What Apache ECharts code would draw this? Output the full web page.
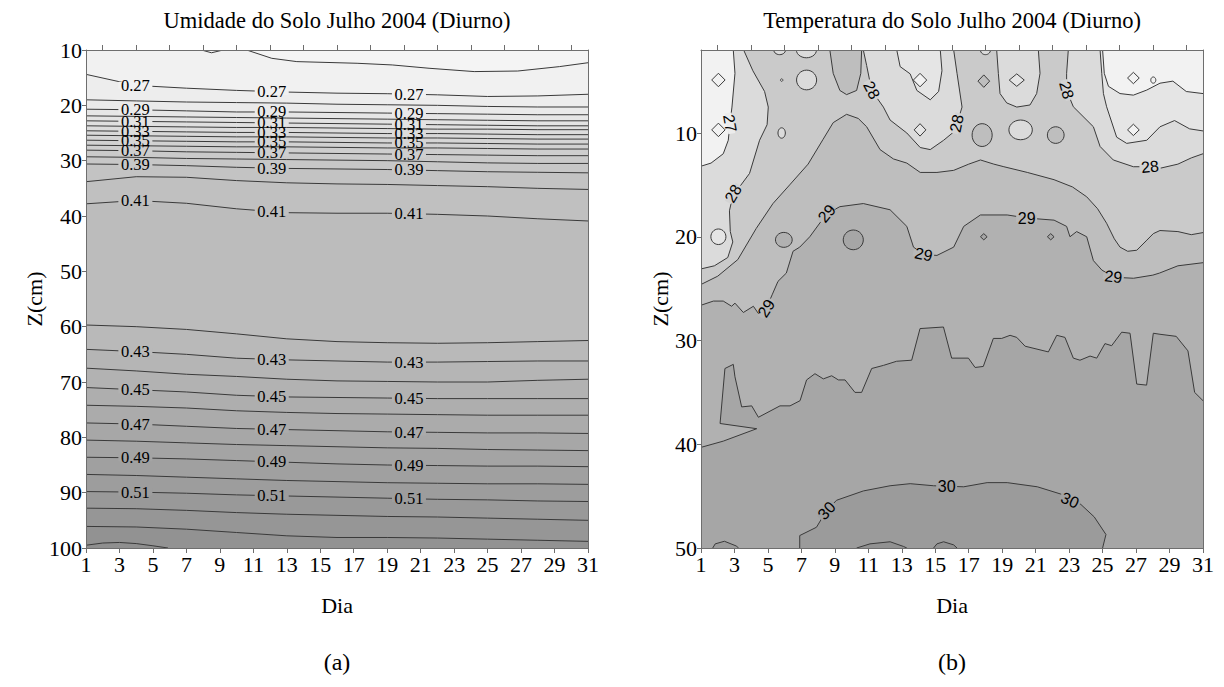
<!DOCTYPE html>
<html><head><meta charset="utf-8">
<script src="https://cdn.jsdelivr.net/npm/echarts@6.0.0/dist/echarts.min.js"></script>
<style>html,body{margin:0;padding:0;background:#fff}#c{width:1224px;height:687px}</style>
</head><body><div id="c"></div>
<script>
// ================= DATA =================
// ---- (a) Umidade do Solo: contour depth (cm) of each moisture level at sample days ----
const umDays = [1, 4, 7, 10, 13, 16, 19, 22, 25, 28, 31];
const umLevels = [0.27,0.28,0.29,0.30,0.31,0.32,0.33,0.34,0.35,0.36,0.37,0.38,0.39,0.40,0.41,0.42,0.43,0.44,0.45,0.46,0.47,0.48,0.49,0.50,0.51,0.52,0.53];
const umDepths = [
 [14.4,16.4,16.9,17.3,17.6,17.8,17.9,18.1,18.4,18.3,18.0],
 [19.0,19.2,19.4,19.5,19.6,19.8,19.9,20.0,20.2,20.3,20.3],
 [20.7,20.8,21.0,21.2,21.2,21.3,21.4,21.5,21.6,21.7,21.7],
 [21.9,22.0,22.1,22.2,22.3,22.4,22.5,22.6,22.7,22.8,22.8],
 [22.8,22.9,23.0,23.1,23.2,23.3,23.4,23.5,23.6,23.7,23.7],
 [23.7,23.8,23.9,24.0,24.0,24.1,24.2,24.3,24.3,24.4,24.4],
 [24.6,24.7,24.8,24.9,24.9,25.0,25.1,25.1,25.2,25.3,25.3],
 [25.4,25.5,25.6,25.7,25.7,25.8,25.9,25.9,26.0,26.1,26.1],
 [26.3,26.4,26.5,26.6,26.6,26.7,26.8,26.8,26.9,27.0,27.0],
 [27.2,27.3,27.4,27.5,27.5,27.6,27.7,27.7,27.8,27.9,27.9],
 [28.1,28.2,28.4,28.5,28.6,28.7,28.8,28.9,29.0,29.1,29.1],
 [29.3,29.4,29.6,29.7,29.8,29.9,30.0,30.2,30.4,30.5,30.5],
 [30.6,30.7,30.9,31.2,31.4,31.5,31.6,31.8,32.0,32.1,32.2],
 [33.8,32.9,33.0,33.6,34.0,34.2,34.3,34.5,34.7,35.0,35.2],
 [37.8,37.2,37.7,38.7,39.4,39.5,39.5,39.7,40.0,40.5,40.9],
 [59.7,60.0,60.5,61.3,62.2,62.7,62.9,63.0,62.9,62.7,62.5],
 [64.1,64.5,65.0,65.7,66.0,66.2,66.4,66.4,66.3,66.2,66.2],
 [67.5,68.0,68.6,69.0,69.5,69.8,69.9,70.0,70.0,69.7,69.5],
 [71.0,71.4,71.8,72.4,72.7,72.8,72.9,73.0,73.0,73.0,73.0],
 [74.2,74.4,74.7,75.2,75.5,75.7,75.8,75.9,76.0,76.0,76.0],
 [77.4,77.6,78.0,78.4,78.6,78.8,79.0,79.1,79.2,79.2,79.3],
 [80.5,80.7,81.0,81.3,81.5,81.7,81.9,82.0,82.2,82.3,82.4],
 [83.6,83.7,83.9,84.2,84.5,84.8,85.0,85.1,85.2,85.2,85.3],
 [86.7,86.9,87.2,87.5,87.8,88.0,88.2,88.3,88.4,88.4,88.5],
 [89.8,89.9,90.1,90.4,90.6,90.8,91.0,91.2,91.3,91.5,91.6],
 [92.8,92.9,93.2,93.6,93.9,94.1,94.3,94.4,94.6,94.8,95.0],
 [96.1,96.2,96.6,97.2,97.8,98.1,98.1,98.2,98.4,98.6,98.8]
];
const umLine026 = [[10.6,10],[12.1,11.5],[13.6,12.1],[17.2,12.4],[19.3,12.7],[21.5,13.3],[24.2,13.9],[26.8,13.8],[29.3,13.0],[31,12.3]];
const umPocket026 = [[7.9,10],[8.5,10.5],[9.2,10]];
const umDome054 = [[1,99.5],[2,99.1],[3,99.0],[4,99.2],[5,99.6],[5.9,100]];
const umLabelLevels = [0.27,0.29,0.31,0.33,0.35,0.37,0.39,0.41,0.43,0.45,0.47,0.49,0.51];
const umLabelDays = [3.95, 12.1, 20.3];

// ---- (b) Temperatura do Solo: contour outlines [day, depth] ----
const tBase = [[1,2],[31,2],[31,50],[1,50]];
const t30Dome = [[6.9,50],[6.9,48.8],[7.9,48.0],[8.5,46.4],[9.1,45.4],[10.7,44.5],[12.3,44.0],[13.5,43.8],[14.9,44.0],[16.7,44.1],[18.1,43.7],[19.3,43.7],[21.1,44.1],[22.5,44.8],[23.7,45.8],[24.5,47.0],[25.2,48.7],[25.0,50]];
const t30BumpLeft = [[1.7,50],[1.85,49.6],[2.4,49.35],[3.1,49.8],[3.25,50]];
const t305Bump1 = [[10.3,50],[11.1,49.6],[12.3,49.4],[13.1,49.85],[13.3,50]];
const t305Bump2 = [[14.9,50],[15.1,49.6],[15.5,49.4],[16.1,49.7],[16.3,50]];
const t295Upper = [[1,40.3],[2.33,39.7],[4.33,38.5],[2.14,38.0],[2.43,32.7],[2.93,32.3],[3.03,33.5],[3.43,36.4],[4.03,36.3],[4.43,37.4],[5.72,36.3],[6.32,36.3],[6.92,35.8],[7.31,33.8],[7.81,33.2],[8.31,33.7],[8.81,33.4],[9.21,33.8],[9.61,33.8],[10.2,35.0],[10.6,35.0],[11.2,32.7],[11.9,32.4],[12.69,32.0],[13.59,31.9],[14.09,28.85],[15.49,28.7],[15.98,31.7],[16.98,31.7],[17.38,32.6],[17.87,32.5],[18.47,29.8],[18.97,29.8],[19.47,29.5],[19.87,29.7],[20.37,30.55],[21.76,31.1],[22.26,29.5],[22.75,29.7],[23.25,31.7],[23.65,31.9],[24.25,31.5],[24.65,31.7],[25.14,30.3],[25.54,30.5],[26.14,29.2],[26.64,29.3],[27.04,34.2],[27.63,34.3],[28.03,29.3],[28.43,29.4],[29.4,29.6],[30.1,31.0],[30.5,35.0],[31,35.8],[31,2],[1,2]];
const t29Upper = [[1,26.6],[1.74,26.2],[2.33,26.2],[2.83,26.7],[3.03,26.4],[3.53,27.3],[4.13,26.7],[4.43,27.4],[4.9,26.9],[5.25,25.6],[5.6,24.3],[6.1,23.5],[6.5,21.4],[6.9,21.0],[7.5,20.0],[8.5,17.8],[9.3,17.1],[10.7,16.8],[12.3,17.4],[13.3,19.0],[13.7,21.0],[14.3,21.7],[15.1,21.8],[16.1,21.0],[16.7,19.0],[17.7,17.9],[19.3,17.9],[20.5,18.2],[22.1,18.4],[22.85,19.0],[23.05,20.0],[23.45,19.5],[24.05,20.0],[24.45,22.3],[24.95,23.2],[25.65,23.9],[26.85,24.0],[28.0,23.7],[28.4,23.5],[29.5,22.8],[31,22.5],[31,2],[1,2]];
const t285Upper = [[1,24.6],[2.0,23.8],[3.2,22.2],[4.3,19.2],[5.3,16.8],[6.3,15.0],[7.4,13.0],[8.3,10.6],[8.9,9.0],[9.7,8.2],[10.4,8.6],[10.9,9.4],[11.7,11.6],[12.5,12.5],[13.3,12.9],[14.1,13.8],[15.1,13.8],[16.1,13.6],[17.0,13.0],[17.7,12.6],[18.5,13.0],[19.1,13.25],[20.5,13.8],[22.1,14.5],[23.2,15.2],[24.05,16.15],[24.7,17.3],[25.24,18.7],[25.7,20.2],[26.04,21.0],[26.5,21.4],[27.04,21.3],[27.6,20.4],[28.03,19.7],[28.43,19.4],[29.5,19.5],[30.3,19.8],[31,19.6],[31,2],[1,2]];
const t285Tongue = [[8.7,2],[8.9,4.25],[9.3,5.9],[9.7,6.3],[10.3,5.9],[10.55,4.25],[10.6,2]];
const t28Left = [[1,2],[3.55,2],[4.1,4.0],[4.8,6.0],[5.02,7.5],[4.95,9.2],[4.5,10.7],[3.9,13.9],[3.3,15.2],[2.93,15.83],[2.7,17.5],[2.75,19.5],[2.9,20.5],[2.6,22.0],[1.8,22.8],[1,23.1]];
const t28Mid = [[10.7,2],[10.9,3.5],[11.2,5.9],[11.9,7.5],[12.3,8.75],[13.3,10.0],[14.1,11.4],[14.7,11.6],[15.5,10.7],[16.1,9.9],[16.3,9.1],[16.6,7.5],[16.3,4.25],[16.1,2]];
const t28Pocket = [[18.67,2],[18.77,4.25],[18.87,6.2],[19.27,7.1],[19.87,7.5],[20.66,7.3],[21.06,6.2],[21.26,4.25],[21.16,2]];
const t28Right = [[22.95,2],[22.85,4.25],[22.85,5.9],[23.25,7.47],[24.45,9.4],[24.85,11.3],[25.64,12.6],[26.84,13.25],[27.83,13.25],[28.43,13.4],[29.5,13.0],[30.3,12.4],[31,12.0],[31,2]];
const t275Mid = [[12.7,2],[12.9,3.6],[13.5,4.3],[13.9,5.9],[14.7,6.8],[15.2,6.0],[15.4,4.0],[15.3,2]];
const t275Right = [[24.85,2],[24.95,4.25],[25.05,6.2],[25.24,7.47],[25.84,10.4],[26.44,11.0],[27.64,10.7],[28.43,9.4],[29.3,8.8],[30.2,9.6],[31,9.8],[31,2]];
const t27Left = [[1,2],[2.93,2],[3.03,4.25],[2.85,7.5],[2.73,9.07],[2.63,10.7],[2.33,12.0],[1.6,12.9],[1,13.2]];
const t27Right = [[25.0,2],[25.1,4.25],[25.35,5.5],[26.04,6.2],[26.84,6.35],[27.64,5.86],[28.43,5.2],[29.2,5.0],[30.0,6.0],[31,6.2],[31,2]];
// band index of each region (0: <27, 1: 27-27.5, 2: 27.5-28, 3: 28-28.5, 4: 28.5-29, 5: 29-29.5, 6: 29.5-30, 7: 30-30.5, 8: >30.5)
const tRegions = [
 [tBase,6],[t30Dome,7],[t30BumpLeft,7],[t305Bump1,8],[t305Bump2,8],
 [t295Upper,5],[t29Upper,4],[t285Upper,3],[t285Tongue,4],
 [t28Left,2],[t28Mid,2],[t28Pocket,2],[t28Right,2],
 [t275Mid,1],[t275Right,1],[t27Left,0],[t27Right,0]
];
// small closed isolines: [day, depth, half-width (days), half-height (cm), band]
const tRoundBlobs = [
 [2.04,20.0,0.45,0.75,1],[7.31,4.89,0.6,0.95,2],[5.82,4.9,0.07,0.12,2],[5.82,10.0,0.22,0.5,2],
 [5.95,20.3,0.5,0.72,5],[10.1,20.3,0.6,0.95,6],[17.8,10.2,0.6,1.1,4],[20.1,9.7,0.7,0.95,2],
 [22.2,10.2,0.5,0.8,4],[28.03,4.9,0.15,0.3,0],[5.7,2,0.35,0.45,2],[7.3,2,0.6,0.75,2],[18.0,2,0.3,0.45,2]
];
const tDiamondBlobs = [
 [2.04,4.89,0.4,0.65,0],[2.04,9.7,0.4,0.65,0],[14.09,4.9,0.4,0.65,0],[14.09,9.7,0.35,0.6,1],
 [17.9,5.0,0.35,0.6,4],[19.87,4.9,0.45,0.6,1],[26.84,4.7,0.35,0.55,0],[26.84,9.7,0.35,0.55,0],
 [17.9,20.0,0.2,0.3,6],[21.9,20.0,0.2,0.3,6]
];
// contour labels: [text, day, depth, angle (deg)]
const tLabels = [
 ['27',2.73,9.07,-80],['28',11.2,5.86,-62],['28',2.93,15.83,60],['29',8.51,17.76,50],
 ['29',14.3,21.7,-12],['28',16.28,9.07,78],['28',22.85,5.86,-75],['28',27.83,13.25,6],
 ['29',20.46,18.24,0],['29',25.64,23.86,-6],['29',4.9,26.9,58],
 ['30',8.51,46.4,48],['30',15.68,44.05,0],['30',23.05,45.4,-25]
];
const oddDays = [1,3,5,7,9,11,13,15,17,19,21,23,25,27,29,31];
const evenDays = [2,4,6,8,10,12,14,16,18,20,22,24,26,28,30];
const umTicks = [10,20,30,40,50,60,70,80,90,100];
const tTicks = [10,20,30,40,50];

// ================= RENDER =================
const SERIF = '"Liberation Serif", "Times New Roman", serif';
const SANS = '"Liberation Sans", Arial, sans-serif';
const LINE = '#3a3a3a';
const AXIS = '#6e6e6e';
function gHex(g){ g=Math.max(0,Math.min(255,Math.round(g))); const h=g.toString(16).padStart(2,'0'); return '#'+h+h+h; }
function umColor(v){ return gHex(244 - 350*(v-0.255)); }
const tBandGray = [242,229,219,202,190,177,166,155,145];
function tColor(b){ return gHex(tBandGray[b]); }
function interp(xs, ys, x){
  for(let i=0;i<xs.length-1;i++){ if(x>=xs[i] && x<=xs[i+1]){ const t=(x-xs[i])/(xs[i+1]-xs[i]); return ys[i]+t*(ys[i+1]-ys[i]); } }
  return ys[ys.length-1];
}
function strokeRuns(pts, box){
  const n=pts.length, runs=[]; let cur=null;
  const onEdge=(p,q)=>(p[0]===box.x0&&q[0]===box.x0)||(p[0]===box.x1&&q[0]===box.x1)||(p[1]===box.y0&&q[1]===box.y0)||(p[1]===box.y1&&q[1]===box.y1);
  for(let i=0;i<n;i++){
    const p=pts[i], q=pts[(i+1)%n];
    if(onEdge(p,q)){ if(cur){runs.push(cur);cur=null;} continue; }
    if(!cur) cur=[p];
    cur.push(q);
  }
  if(cur) runs.push(cur);
  if(runs.length>1){ const f=runs[0], l=runs[runs.length-1]; if(l[l.length-1]===f[0]){ runs[0]=l.concat(f.slice(1)); runs.pop(); } }
  return runs;
}
function buildRender(fills, box, blobs, labels){
  return function(params, api){
    const ch=[]; const P=p=>api.coord(p);
    fills.forEach(f=>ch.push({type:'polygon',shape:{points:f.pts.map(P)},style:{fill:f.color,stroke:null}}));
    fills.forEach(f=>strokeRuns(f.pts,box).forEach(r=>ch.push({type:'polyline',shape:{points:r.map(P)},style:{stroke:LINE,lineWidth:1,fill:null}})));
    blobs.forEach(b=>{
      const c=P([b.d,b.z]); const s=api.size([b.rd,b.rz]); const rx=Math.abs(s[0]), ry=Math.abs(s[1]);
      let pts=[];
      if(b.diamond){ pts=[[c[0],c[1]-ry],[c[0]+rx,c[1]],[c[0],c[1]+ry],[c[0]-rx,c[1]]]; }
      else { for(let i=0;i<28;i++){ const a=i/28*Math.PI*2; pts.push([c[0]+rx*Math.cos(a), c[1]+ry*Math.sin(a)]); } }
      ch.push({type:'polygon',shape:{points:pts},style:{fill:b.color,stroke:LINE,lineWidth:1}});
    });
    labels.forEach(l=>{
      const c=P([l.d,l.z]); const rot=l.angle*Math.PI/180;
      ch.push({type:'rect',x:c[0],y:c[1],rotation:rot,shape:{x:-l.w/2,y:-3.5,width:l.w,height:7},style:{fill:l.bg}});
    });
    labels.forEach(l=>{
      const c=P([l.d,l.z]); const rot=l.angle*Math.PI/180;
      ch.push({type:'text',x:c[0],y:c[1],rotation:rot,style:{text:l.text,font:l.font,fill:'#000',textAlign:'center',textVerticalAlign:'middle',align:'center',verticalAlign:'middle'}});
    });
    return {type:'group',children:ch};
  };
}

// ---- left fills ----
const umBox={x0:1,x1:31,y0:10,y1:100};
const umFills=[];
umFills.push({pts:[[1,10],[31,10],[31,100],[1,100]],color:umColor(0.535)});
umFills.push({pts:umDome054.concat([[1,100]]),color:umColor(0.545)});
for(let k=umLevels.length-1;k>=0;k--){
  umFills.push({pts:umDays.map((d,j)=>[d,umDepths[k][j]]).concat([[31,10],[1,10]]),color:umColor(umLevels[k]-0.005)});
}
umFills.push({pts:umLine026.concat([[31,10]]),color:umColor(0.255)});
umFills.push({pts:umPocket026.slice(),color:umColor(0.255)});
const umLabelObjs=[];
umLabelLevels.forEach(v=>{
  const k=umLevels.findIndex(x=>Math.abs(x-v)<1e-9);
  umLabelDays.forEach(d=>{
    umLabelObjs.push({text:v.toFixed(2),d:d,z:interp(umDays,umDepths[k],d),angle:0,w:34,bg:umColor(v-0.005),font:'16.5px '+SERIF});
  });
});

// ---- right fills ----
const tBox={x0:1,x1:31,y0:2,y1:50};
const tFills=tRegions.map(r=>({pts:r[0],color:tColor(r[1])}));
const tBlobObjs=[];
tRoundBlobs.forEach(b=>tBlobObjs.push({d:b[0],z:b[1],rd:b[2],rz:b[3],color:tColor(b[4]),diamond:false}));
tDiamondBlobs.forEach(b=>tBlobObjs.push({d:b[0],z:b[1],rd:b[2],rz:b[3],color:tColor(b[4]),diamond:true}));
const tLabelObjs=tLabels.map(l=>{
  const v=+l[0]; const bi=(v-27)*2;
  const g=(tBandGray[Math.max(0,bi)]+tBandGray[Math.min(8,bi+1)])/2;
  return {text:l[0],d:l[1],z:l[2],angle:l[3],w:21,bg:gHex(g),font:'16px '+SANS};
});

function xAxes(grid, nameGap){
  return [
    {gridIndex:grid,type:'value',min:1,max:31,position:'bottom',z:10,
     name:'Dia',nameLocation:'middle',nameGap:nameGap,nameTextStyle:{fontFamily:SERIF,fontSize:22,color:'#000'},
     axisLine:{show:true,onZero:false,lineStyle:{color:AXIS,width:1}},
     axisTick:{show:true,inside:false,length:5,customValues:oddDays,lineStyle:{color:AXIS}},
     axisLabel:{show:true,customValues:oddDays,margin:5,fontFamily:SERIF,fontSize:22,color:'#000'},
     splitLine:{show:false}},
    {gridIndex:grid,type:'value',min:1,max:31,position:'top',z:10,
     axisLine:{show:true,onZero:false,lineStyle:{color:AXIS,width:1}},
     axisTick:{show:true,inside:false,length:5,customValues:evenDays,lineStyle:{color:AXIS}},
     axisLabel:{show:false},splitLine:{show:false}}
  ];
}
function yAxes(grid, min, max, ticks, nameGap){
  return [
    {gridIndex:grid,type:'value',min:min,max:max,inverse:true,position:'left',z:10,
     name:'Z(cm)',nameLocation:'middle',nameRotate:90,nameGap:nameGap,nameTextStyle:{fontFamily:SERIF,fontSize:22,color:'#000'},
     axisLine:{show:true,onZero:false,lineStyle:{color:AXIS,width:1}},
     axisTick:{show:true,inside:false,length:4,customValues:ticks,lineStyle:{color:AXIS}},
     axisLabel:{show:true,customValues:ticks,margin:4,fontFamily:SERIF,fontSize:22,color:'#000'},
     splitLine:{show:false}},
    {gridIndex:grid,type:'value',min:min,max:max,inverse:true,position:'right',z:10,
     axisLine:{show:true,onZero:false,lineStyle:{color:AXIS,width:1}},
     axisTick:{show:false},axisLabel:{show:false},splitLine:{show:false}}
  ];
}
function txt(x,y,text,size){
  return {type:'text',x:x,y:y,silent:true,style:{text:text,font:size+'px '+SERIF,fill:'#000',textAlign:'center',textVerticalAlign:'middle',align:'center',verticalAlign:'middle'}};
}

const chart=echarts.init(document.getElementById('c'),null,{renderer:'svg',width:1224,height:687});
chart.setOption({
  animation:false,
  backgroundColor:'#fff',
  grid:[{left:86,top:50,width:502,height:498},{left:701,top:50,width:502,height:498}],
  xAxis:xAxes(0,46).concat(xAxes(1,46)),
  yAxis:yAxes(0,10,100,umTicks,40).concat(yAxes(1,2,50,tTicks,27)),
  graphic:[
    txt(337,20,'Umidade do Solo Julho 2004 (Diurno)',22.5),
    txt(952,20,'Temperatura do Solo Julho 2004 (Diurno)',22.5),
    txt(337,662,'(a)',24),
    txt(952,662,'(b)',24)
  ],
  series:[
    {type:'custom',xAxisIndex:0,yAxisIndex:0,clip:true,silent:true,z:2,data:[[1,10]],
     renderItem:buildRender(umFills,umBox,[],umLabelObjs)},
    {type:'custom',xAxisIndex:2,yAxisIndex:2,clip:true,silent:true,z:2,data:[[1,2]],
     renderItem:buildRender(tFills,tBox,tBlobObjs,tLabelObjs)}
  ]
});
</script></body></html>
